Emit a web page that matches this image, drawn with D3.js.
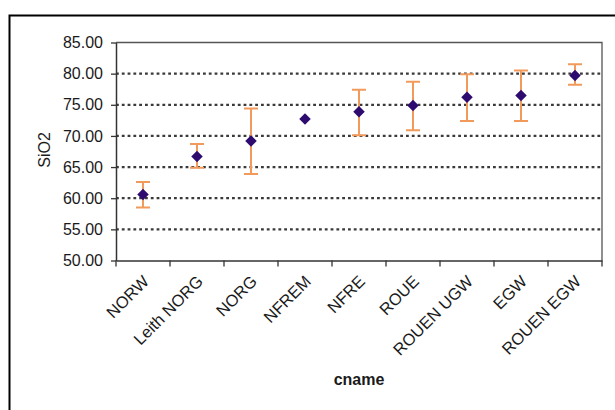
<!DOCTYPE html>
<html>
<head>
<meta charset="utf-8">
<script src="https://cdn.jsdelivr.net/npm/d3@7"></script>
<style>
  body { margin: 0; background: #fff; }
  text { font-family: "Liberation Sans", Arial, sans-serif; fill: #1a1a1a; }
</style>
</head>
<body>
<div id="plot"></div>
<script>
// values
const categories = ["NORW", "Leith NORG", "NORG", "NFREM", "NFRE", "ROUE", "ROUEN UGW", "EGW", "ROUEN EGW"];
const means = [60.6, 66.7, 69.2, 72.7, 73.9, 74.9, 76.2, 76.5, 79.7];
const upper = [62.6, 68.7, 74.4, null, 77.4, 78.7, 79.9, 80.5, 81.5];
const lower = [58.5, 64.9, 63.9, null, 70.1, 70.9, 72.4, 72.4, 78.2];
const yTicks = [50, 55, 60, 65, 70, 75, 80, 85];
const gridTicks = [55, 60, 65, 70, 75, 80];

const width = 615, height = 410;
const plot = {left: 116, right: 602, top: 42.5, bottom: 260.5};

var svg = d3.select("#plot")
     .append("svg")
     .attr("width", width)
     .attr("height", height);

// outer frame (runs off the right and bottom edges)
svg.append("rect")
     .attr("x", 9.5).attr("y", 15.5)
     .attr("width", 700).attr("height", 500)
     .attr("fill", "#fff")
     .attr("stroke", "#000")
     .attr("stroke-width", 2);

let x = d3.scaleBand()
     .domain(categories)
     .range([plot.left, plot.right]);

let y = d3.scaleLinear()
     .domain([50, 85])
     .range([plot.bottom, plot.top]);

// dotted gridlines
svg.selectAll(".grid")
     .data(gridTicks)
     .enter()
     .append("line")
     .attr("class", "grid")
     .attr("x1", plot.left).attr("x2", plot.right)
     .attr("y1", d => y(d)).attr("y2", d => y(d))
     .attr("stroke", "#3a3a3a")
     .attr("stroke-width", 2.2)
     .attr("stroke-dasharray", "2.8,3");

// top and right border of plot
svg.append("path")
     .attr("d", `M${plot.left},${plot.top}H${plot.right}V${plot.bottom}`)
     .attr("fill", "none")
     .attr("stroke", "#555")
     .attr("stroke-width", 1.3);

// Y axis
let yAxis = svg.append("g")
     .attr("transform", "translate(" + plot.left + ",0)")
     .call(d3.axisLeft(y).tickValues(yTicks).tickFormat(d3.format(".2f")).tickSize(5).tickSizeOuter(0));
yAxis.select(".domain").attr("stroke", "#333").attr("stroke-width", 1.5);
yAxis.selectAll(".tick line").attr("stroke", "#333").attr("stroke-width", 1.3);
yAxis.selectAll("text")
     .attr("x", -13)
     .style("font-size", "16px")
     .style("font-family", "'Liberation Sans', Arial, sans-serif")
     .attr("fill", "#1a1a1a");

// X axis, labels at centres, ticks at category boundaries
let xAxis = svg.append("g")
     .attr("transform", "translate(0," + plot.bottom + ")")
     .call(d3.axisBottom(x).tickSize(0).tickSizeOuter(0));
xAxis.select(".domain").attr("stroke", "#333").attr("stroke-width", 1.5);
xAxis.selectAll("text")
     .style("text-anchor", "end")
     .style("font-size", "16.5px")
     .style("font-family", "'Liberation Sans', Arial, sans-serif")
     .attr("fill", "#1a1a1a")
     .attr("x", 0).attr("y", 0)
     .attr("dx", 0).attr("dy", 0)
     .attr("transform", "translate(7,22) rotate(-45)");

svg.selectAll(".xtick")
     .data(categories.concat(["end"]))
     .enter()
     .append("line")
     .attr("class", "xtick")
     .attr("x1", d => d == "end" ? plot.right : x(d))
     .attr("x2", d => d == "end" ? plot.right : x(d))
     .attr("y1", plot.bottom).attr("y2", plot.bottom + 6)
     .attr("stroke", "#333")
     .attr("stroke-width", 1.3);

// axis titles
svg.append("text")
     .attr("transform", "translate(50,150) rotate(-90)")
     .attr("text-anchor", "middle")
     .style("font-size", "16px")
     .text("SiO2");

svg.append("text")
     .attr("x", (plot.left + plot.right) / 2)
     .attr("y", 385)
     .attr("text-anchor", "middle")
     .style("font-size", "16px")
     .style("font-weight", "bold")
     .text("cname");

// error bars
let rows = categories.map((c, i) => ({name: c, mean: means[i], hi: upper[i], lo: lower[i]}));
let withErr = rows.filter(d => d.hi != null);
let cx = d => x(d.name) + x.bandwidth() / 2;
const capW = 7;
const errColor = "#f19a5c";

svg.selectAll(".errbar")
     .data(withErr)
     .enter()
     .append("path")
     .attr("class", "errbar")
     .attr("d", d => `M${cx(d)},${y(d.lo)}V${y(d.hi)}` +
          `M${cx(d) - capW},${y(d.hi)}H${cx(d) + capW}` +
          `M${cx(d) - capW},${y(d.lo)}H${cx(d) + capW}`)
     .attr("fill", "none")
     .attr("stroke", errColor)
     .attr("stroke-width", 2);

// diamond markers
svg.selectAll(".pt")
     .data(rows)
     .enter()
     .append("path")
     .attr("class", "pt")
     .attr("d", d3.symbol().type(d3.symbolSquare).size(66))
     .attr("transform", d => `translate(${cx(d)},${y(d.mean)}) rotate(45)`)
     .attr("fill", "#2e0b6e");
</script>
</body>
</html>
